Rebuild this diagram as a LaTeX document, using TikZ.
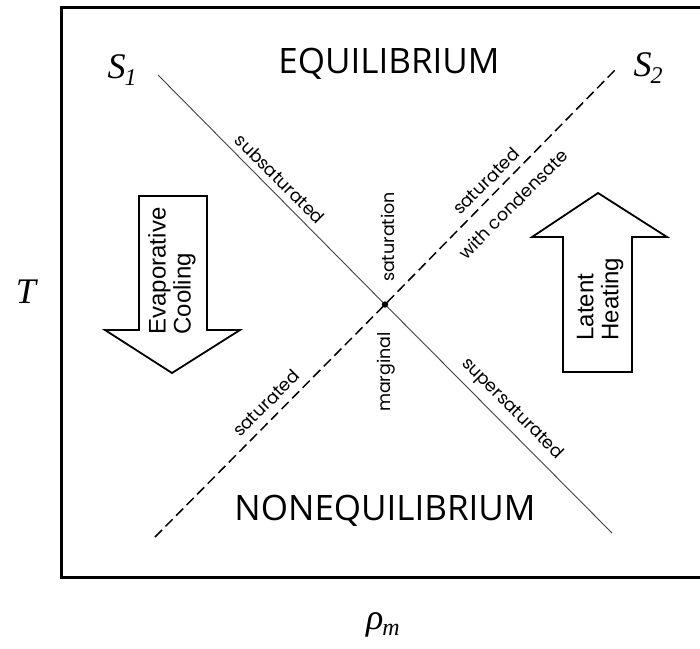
\documentclass[tikz,border=0pt]{standalone}
\usepackage{fontspec}
\setmainfont{Liberation Serif}
\newfontfamily\osans{Open Sans}
\newfontfamily\arialf{Liberation Sans}
\newfontfamily\geo{Poppins}
\begin{document}
\begin{tikzpicture}[x=1pt,y=-1pt,
  region/.style={font=\osans\fontsize{35}{40}\selectfont, inner sep=0pt},
  sym/.style={font=\fontsize{36}{40}\selectfont\itshape, inner sep=0pt},
  small/.style={font=\geo\fontsize{17.5}{19}\selectfont, inner sep=0pt},
  arrowtext/.style={font=\arialf\fontsize{24}{25}\selectfont, align=left, rotate=90, inner sep=0pt},
  fatarrow/.style={draw, line width=1.8pt, fill=white, line join=miter},
  isoline/.style={draw, line width=0.9pt, black!75},
  satline/.style={draw, line width=1.5pt, dash pattern=on 10pt off 5pt}]
\useasboundingbox (0,0) rectangle (700,648);
\clip (0,0) rectangle (700,648);
% frame
\draw[line width=3pt] (720,7) -- (61,7) -- (61,577) -- (720,577);
% axis labels
\node[sym] (T) at (26,292) {T};
\node[sym] (rho) at (383,625) {ρ\kern-1pt\raisebox{-6pt}{\fontsize{24}{24}\selectfont\itshape m}};
% curve labels
\node[sym] (S1) at (122,70) {S\kern-1pt\raisebox{-7pt}{\fontsize{24}{24}\selectfont\itshape 1}};
\node[sym] (S2) at (648,68) {S\kern-1pt\raisebox{-7pt}{\fontsize{24}{24}\selectfont\itshape 2}};
% region labels
\node[region] (eq) at (389,64) {EQUILIBRIUM};
\node[region] (neq) at (385,511) {NONEQUILIBRIUM};
% lines
\coordinate (c) at (385,304.5);
\coordinate (s1a) at (158,75);
\coordinate (s1b) at (612,533);
\coordinate (s2a) at (155,537);
\coordinate (s2b) at (617,68);
\draw[isoline] (s1a) -- (c) -- (s1b);
\draw[satline] (s2a) -- (c) -- (s2b);
\fill (c) circle (3.2pt);
% small labels
\node[small, rotate=-45] (sub) at (280,179) {subsaturated};
\node[small, rotate=-45] (super) at (512,409) {supersaturated};
\node[small, rotate=45] (satlo) at (266,403) {saturated};
\node[small, rotate=45] (sathi) at (486,181) {saturated};
\node[small, rotate=45] (cond) at (513,204) {with condensate};
\node[small, rotate=90] (satn) at (388,237) {saturation};
\node[small, rotate=90] (marg) at (386,372) {marginal};
% fat arrows
\draw[fatarrow] (139,196) -- (207,196) -- (207,330) -- (240,330) -- (172,373) -- (105,330) -- (139,330) -- cycle;
\node[arrowtext] (evap) at (172,271) {Evaporative\\Cooling};
\draw[fatarrow] (563,372) -- (632,372) -- (632,237) -- (667,237) -- (598,193) -- (532,237) -- (563,237) -- cycle;
\node[arrowtext] (heat) at (600,299) {Latent\\Heating};
\end{tikzpicture}
\end{document}
